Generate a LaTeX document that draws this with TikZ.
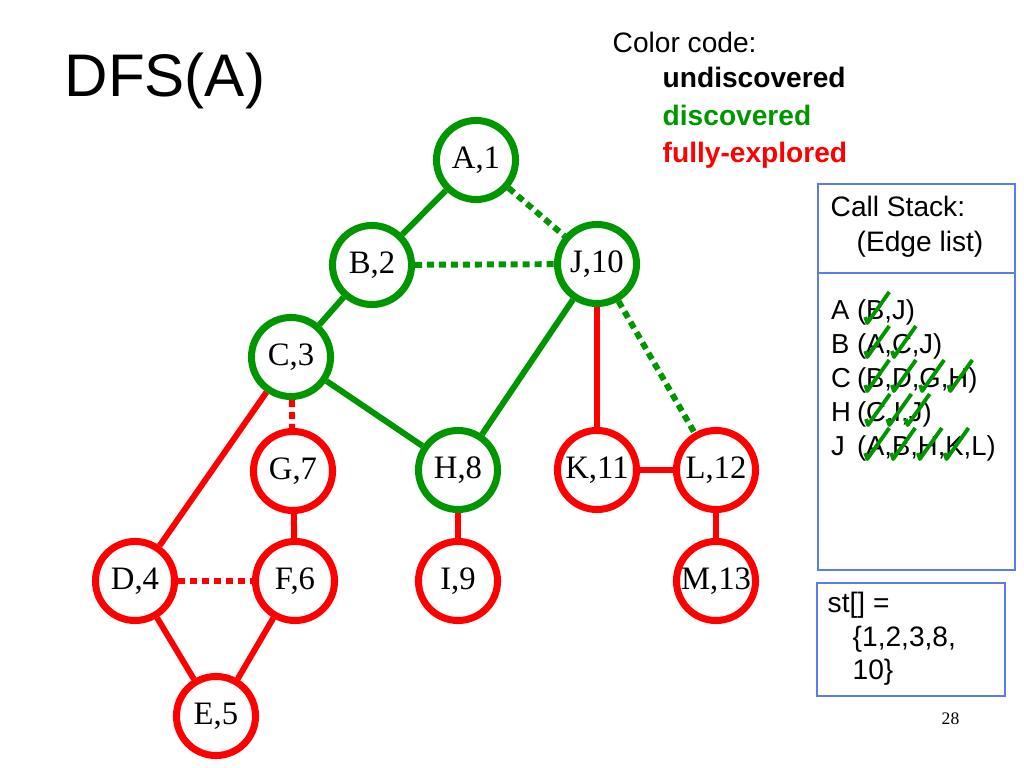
\documentclass[tikz,border=0pt]{standalone}
\usepackage{fontspec}
\setmainfont{Liberation Serif}
\newfontfamily\arial{Liberation Sans}
\definecolor{gr}{RGB}{0,150,0}
\definecolor{rd}{RGB}{255,0,0}
\definecolor{bx}{RGB}{90,125,235}
\tikzset{
  vtx/.style={circle, draw, line width=2pt, minimum size=0.79cm, inner sep=0pt, fill=white,
    font=\fontsize{9.3pt}{10.5pt}\selectfont},
  gv/.style={vtx, draw=gr},
  rv/.style={vtx, draw=rd},
  sol/.style={line width=1.7pt},
  dtd/.style={line width=1.7pt, dash pattern=on 2pt off 1.4pt},
  lst/.style={anchor=base west, inner sep=0pt, outer sep=0pt, font=\arial\fontsize{7.8pt}{9pt}\selectfont},
  txt/.style={anchor=base west, inner sep=0pt, font=\arial\fontsize{8pt}{9.6pt}\selectfont},
  btxt/.style={txt, font=\arial\bfseries\fontsize{8pt}{9.6pt}\selectfont},
  chk/.style={draw=gr, line width=1.1pt, line join=round},
  boxline/.style={draw=bx, line width=0.45pt}
}
\begin{document}
\begin{tikzpicture}[x=0.01cm,y=-0.01cm]
\useasboundingbox (0,0) rectangle (1024,768);
% title
\node[anchor=base west, inner sep=0pt, font=\arial\fontsize{17.1pt}{20pt}\selectfont] (title) at (64,97) {DFS(A)};
% color code
\node[txt] (cc) at (612,53) {Color code:};
\node[btxt, text=black] (cu) at (662,88) {undiscovered};
\node[btxt, text=gr] (cd) at (662,126) {discovered};
\node[btxt, text=rd] (cf) at (662,163) {fully-explored};
% vertices
\node[gv] (A) at (476,160) {A,1};
\node[gv] (B) at (372,265) {B,2};
\node[gv] (J) at (597,264) {J,10};
\node[gv] (C) at (291,357) {C,3};
\node[rv] (G) at (293,471) {G,7};
\node[gv] (H) at (458,470) {H,8};
\node[rv] (K) at (597,470) {K,11};
\node[rv] (L) at (716,470) {L,12};
\node[rv] (D) at (135,581) {D,4};
\node[rv] (F) at (295,581) {F,6};
\node[rv] (I) at (458,581) {I,9};
\node[rv] (M) at (716,581) {M,13};
\node[rv] (E) at (216,716) {E,5};
% edges
\draw[sol, gr] (A) -- (B);
\draw[dtd, gr] (A) -- (J);
\draw[dtd, gr] (B) -- (J);
\draw[sol, gr] (B) -- (C);
\draw[sol, gr] (C) -- (H);
\draw[sol, gr] (J) -- (H);
\draw[dtd, gr] (J) -- (L);
\draw[sol, rd] (J) -- (K);
\draw[sol, rd] (K) -- (L);
\draw[sol, rd] (L) -- (M);
\draw[sol, rd] (C) -- (D);
\draw[dtd, rd] (C) -- (G);
\draw[sol, rd] (G) -- (F);
\draw[dtd, rd] (D) -- (F);
\draw[sol, rd] (D) -- (E);
\draw[sol, rd] (F) -- (E);
\draw[sol, rd] (H) -- (I);
% call stack box
\draw[boxline] (818,184) rectangle (1015,570);
\draw[boxline] (818,273) -- (1015,273);
\node[txt] (cs1) at (830,217) {Call Stack:};
\node[txt] (cs2) at (856,252) {(Edge list)};
% list lines
\node[lst] (a0) at (831,320) {A};
\node[lst] (a1) at (857,320) {(};
\node[lst] (a2) at (a1.base east) {B};
\node[lst] (a3) at (a2.base east) {,J)};
\node[lst] (b0) at (831,354) {B};
\node[lst] (b1) at (857,354) {(};
\node[lst] (b2) at (b1.base east) {A};
\node[lst] (b3) at (b2.base east) {,};
\node[lst] (b4) at (b3.base east) {C};
\node[lst] (b5) at (b4.base east) {,J)};
\node[lst] (c0) at (831,388) {C};
\node[lst] (c1) at (857,388) {(};
\node[lst] (c2) at (c1.base east) {B};
\node[lst] (c3) at (c2.base east) {,};
\node[lst] (c4) at (c3.base east) {D};
\node[lst] (c5) at (c4.base east) {,};
\node[lst] (c6) at (c5.base east) {G};
\node[lst] (c7) at (c6.base east) {,};
\node[lst] (c8) at (c7.base east) {H};
\node[lst] (c9) at (c8.base east) {)};
\node[lst] (h0) at (831,422) {H};
\node[lst] (h1) at (857,422) {(};
\node[lst] (h2) at (h1.base east) {C};
\node[lst] (h3) at (h2.base east) {,};
\node[lst] (h4) at (h3.base east) {I};
\node[lst] (h5) at (h4.base east) {,};
\node[lst] (h6) at (h5.base east) {J};
\node[lst] (h7) at (h6.base east) {)};
\node[lst] (j0) at (831,456) {J};
\node[lst] (j1) at (857,456) {(};
\node[lst] (j2) at (j1.base east) {A};
\node[lst] (j3) at (j2.base east) {,};
\node[lst] (j4) at (j3.base east) {B};
\node[lst] (j5) at (j4.base east) {,};
\node[lst] (j6) at (j5.base east) {H};
\node[lst] (j7) at (j6.base east) {,};
\node[lst] (j8) at (j7.base east) {K};
\node[lst] (j9) at (j8.base east) {,L)};
\foreach \n in {a2,b2,b4,c2,c4,c6,c8,h2,h4,h6,j2,j4,j6,j8}
  \draw[chk] ([shift={(-10,-3)}]\n.base) -- ([shift={(-8,3)}]\n.base) -- ([shift={(14,-28)}]\n.base);
% st box
\draw[boxline] (817,583) rectangle (1005,696);
\node[txt] (s1) at (827,613) {st[] =};
\node[txt] (s2) at (852,647) {\{1,2,3,8,};
\node[txt] (s3) at (852,680) {10\}};
% page number
\node[anchor=base west, inner sep=0pt, font=\fontsize{5pt}{6pt}\selectfont] (pg) at (941,725) {28};
\end{tikzpicture}
\end{document}
